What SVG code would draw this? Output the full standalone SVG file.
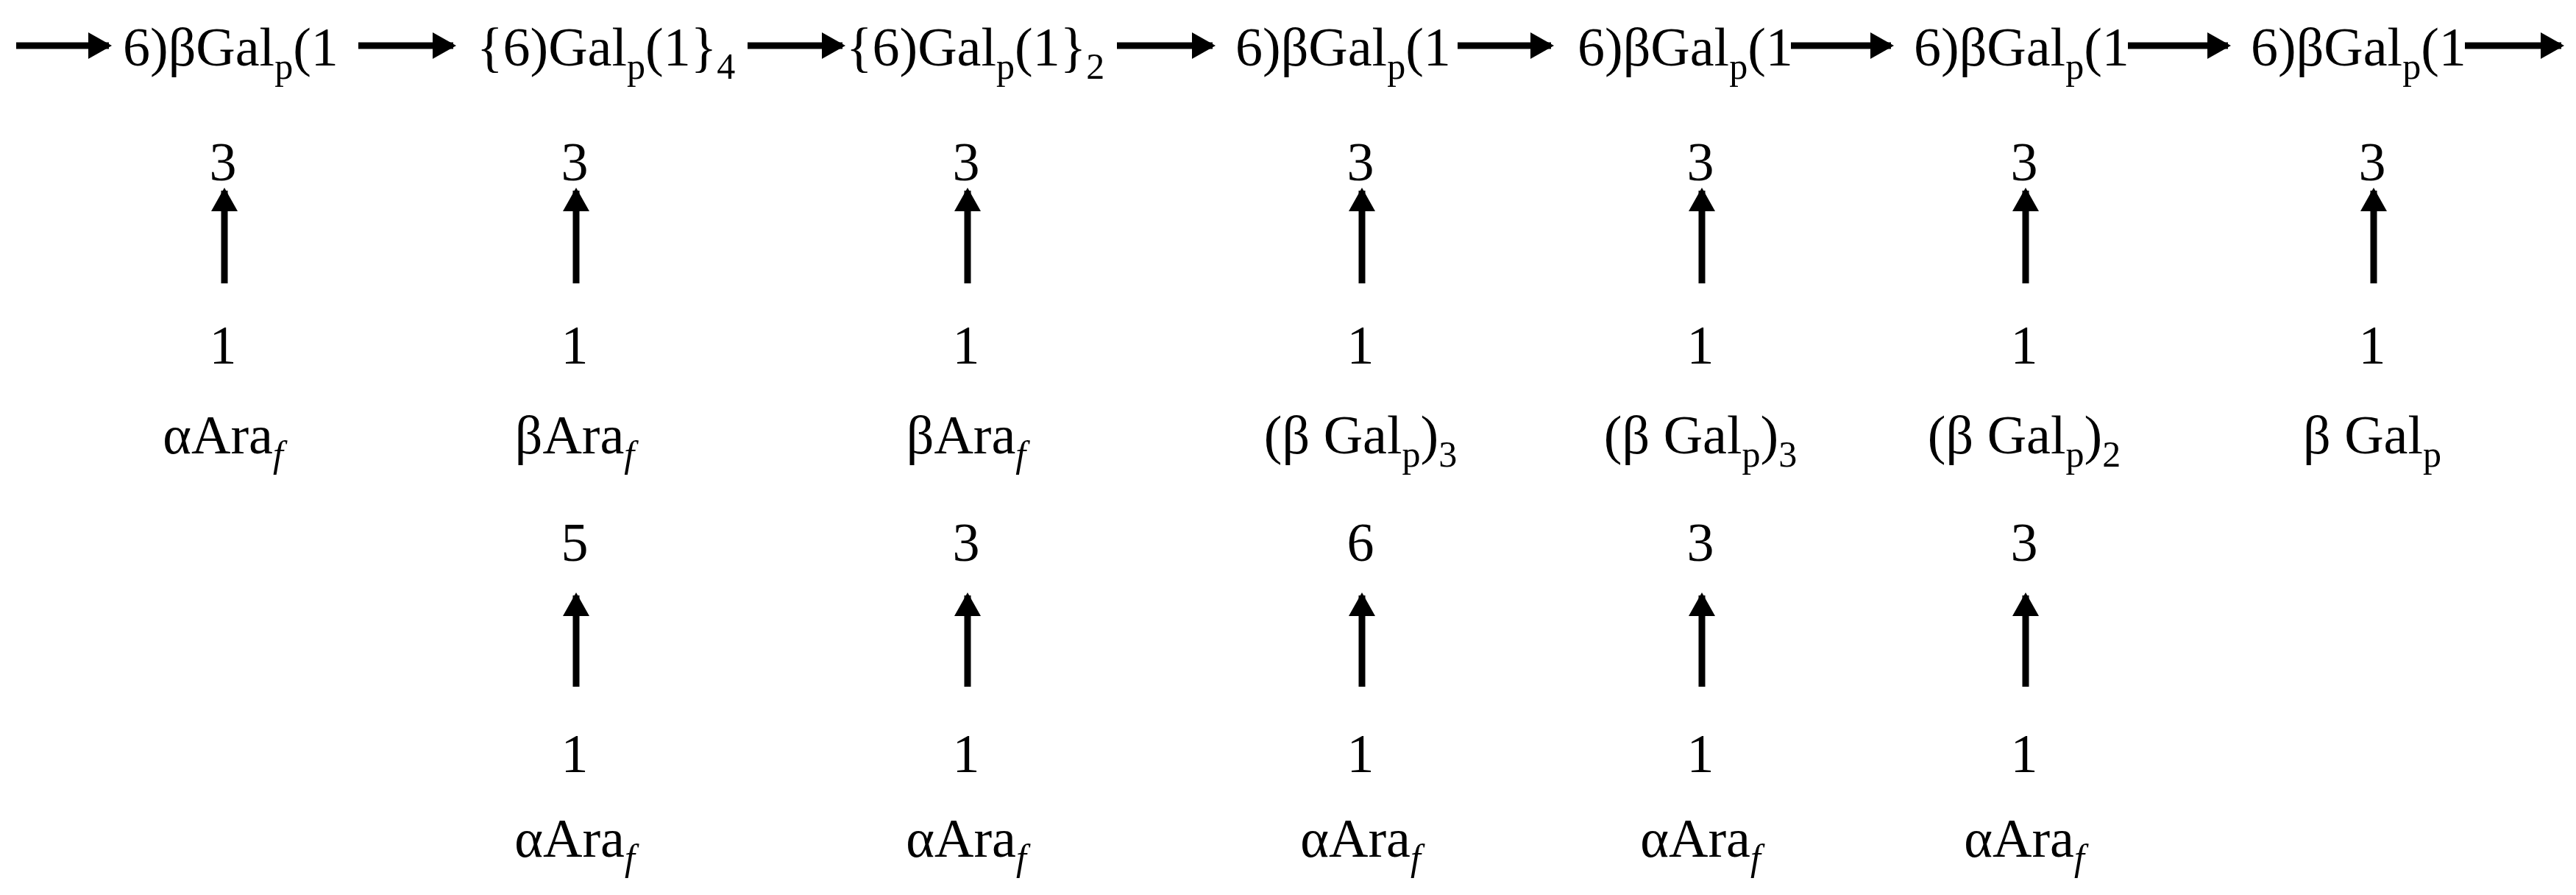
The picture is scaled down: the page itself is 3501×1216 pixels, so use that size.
<svg xmlns="http://www.w3.org/2000/svg" width="3501" height="1216" viewBox="0 0 3501 1216">
<style>
text{font-family:"Liberation Serif","Times New Roman",serif;font-size:74px;fill:#000}
.s{font-size:50px}
.c{text-anchor:middle}
.ln{stroke:#000;stroke-width:9;fill:none}
</style>
<defs>
<marker id="ah" markerUnits="userSpaceOnUse" markerWidth="34" markerHeight="36" refX="28" refY="18" orient="auto"><path d="M0,0 L32,18 L0,36 z" fill="#000"/></marker>
</defs>
<g id="chain">
<text id="n1" x="167" y="89">6)βGal<tspan class="s" dy="18">p</tspan><tspan dy="-18">(1</tspan></text>
<text id="n2" x="648" y="89">{6)Gal<tspan class="s" dy="18">p</tspan><tspan dy="-18">(1}</tspan><tspan class="s" dy="18">4</tspan></text>
<text id="n3" x="1150" y="89">{6)Gal<tspan class="s" dy="18">p</tspan><tspan dy="-18">(1}</tspan><tspan class="s" dy="18">2</tspan></text>
<text id="n4" x="1679" y="89">6)βGal<tspan class="s" dy="18">p</tspan><tspan dy="-18">(1</tspan></text>
<text id="n5" x="2144" y="89">6)βGal<tspan class="s" dy="18">p</tspan><tspan dy="-18">(1</tspan></text>
<text id="n6" x="2601" y="89">6)βGal<tspan class="s" dy="18">p</tspan><tspan dy="-18">(1</tspan></text>
<text id="n7" x="3059" y="89">6)βGal<tspan class="s" dy="18">p</tspan><tspan dy="-18">(1</tspan></text>
</g>
<g id="branches1">
<g id="b1"><text class="c" x="303" y="245">3</text><text class="c" x="303" y="494">1</text><text class="c" x="303" y="616">αAra<tspan class="s" font-style="italic" dy="18">f</tspan></text></g>
<g id="b2"><text class="c" x="781" y="245">3</text><text class="c" x="781" y="494">1</text><text class="c" x="781" y="616">βAra<tspan class="s" font-style="italic" dy="18">f</tspan></text></g>
<g id="b3"><text class="c" x="1313" y="245">3</text><text class="c" x="1313" y="494">1</text><text class="c" x="1313" y="616">βAra<tspan class="s" font-style="italic" dy="18">f</tspan></text></g>
<g id="b4"><text class="c" x="1849" y="245">3</text><text class="c" x="1849" y="494">1</text><text class="c" x="1849" y="616">(β Gal<tspan class="s" dy="18">p</tspan><tspan dy="-18">)</tspan><tspan class="s" dy="18">3</tspan></text></g>
<g id="b5"><text class="c" x="2311" y="245">3</text><text class="c" x="2311" y="494">1</text><text class="c" x="2311" y="616">(β Gal<tspan class="s" dy="18">p</tspan><tspan dy="-18">)</tspan><tspan class="s" dy="18">3</tspan></text></g>
<g id="b6"><text class="c" x="2751" y="245">3</text><text class="c" x="2751" y="494">1</text><text class="c" x="2751" y="616">(β Gal<tspan class="s" dy="18">p</tspan><tspan dy="-18">)</tspan><tspan class="s" dy="18">2</tspan></text></g>
<g id="b7"><text class="c" x="3224" y="245">3</text><text class="c" x="3224" y="494">1</text><text class="c" x="3224" y="616">β Gal<tspan class="s" dy="18">p</tspan></text></g>
</g>
<g id="branches2">
<g id="c2"><text class="c" x="781" y="762">5</text><text class="c" x="781" y="1049">1</text><text class="c" x="781" y="1164">αAra<tspan class="s" font-style="italic" dy="18">f</tspan></text></g>
<g id="c3"><text class="c" x="1313" y="762">3</text><text class="c" x="1313" y="1049">1</text><text class="c" x="1313" y="1164">αAra<tspan class="s" font-style="italic" dy="18">f</tspan></text></g>
<g id="c4"><text class="c" x="1849" y="762">6</text><text class="c" x="1849" y="1049">1</text><text class="c" x="1849" y="1164">αAra<tspan class="s" font-style="italic" dy="18">f</tspan></text></g>
<g id="c5"><text class="c" x="2311" y="762">3</text><text class="c" x="2311" y="1049">1</text><text class="c" x="2311" y="1164">αAra<tspan class="s" font-style="italic" dy="18">f</tspan></text></g>
<g id="c6"><text class="c" x="2751" y="762">3</text><text class="c" x="2751" y="1049">1</text><text class="c" x="2751" y="1164">αAra<tspan class="s" font-style="italic" dy="18">f</tspan></text></g>
</g>
<g id="connectors" class="ln" marker-end="url(#ah)">
<line x1="22" y1="62" x2="148" y2="62"/>
<line x1="487" y1="62" x2="616" y2="62"/>
<line x1="1016" y1="62" x2="1145" y2="62"/>
<line x1="1518" y1="62" x2="1648" y2="62"/>
<line x1="1981" y1="62" x2="2108" y2="62"/>
<line x1="2434" y1="62" x2="2570" y2="62"/>
<line x1="2892" y1="62" x2="3028" y2="62"/>
<line x1="3350" y1="62" x2="3481" y2="62"/>
<line x1="305" y1="385" x2="305" y2="259"/>
<line x1="783" y1="385" x2="783" y2="259"/>
<line x1="1315" y1="385" x2="1315" y2="259"/>
<line x1="1851" y1="385" x2="1851" y2="259"/>
<line x1="2313" y1="385" x2="2313" y2="259"/>
<line x1="2753" y1="385" x2="2753" y2="259"/>
<line x1="3226" y1="385" x2="3226" y2="259"/>
<line x1="783" y1="933" x2="783" y2="809"/>
<line x1="1315" y1="933" x2="1315" y2="809"/>
<line x1="1851" y1="933" x2="1851" y2="809"/>
<line x1="2313" y1="933" x2="2313" y2="809"/>
<line x1="2753" y1="933" x2="2753" y2="809"/>
</g>
</svg>
